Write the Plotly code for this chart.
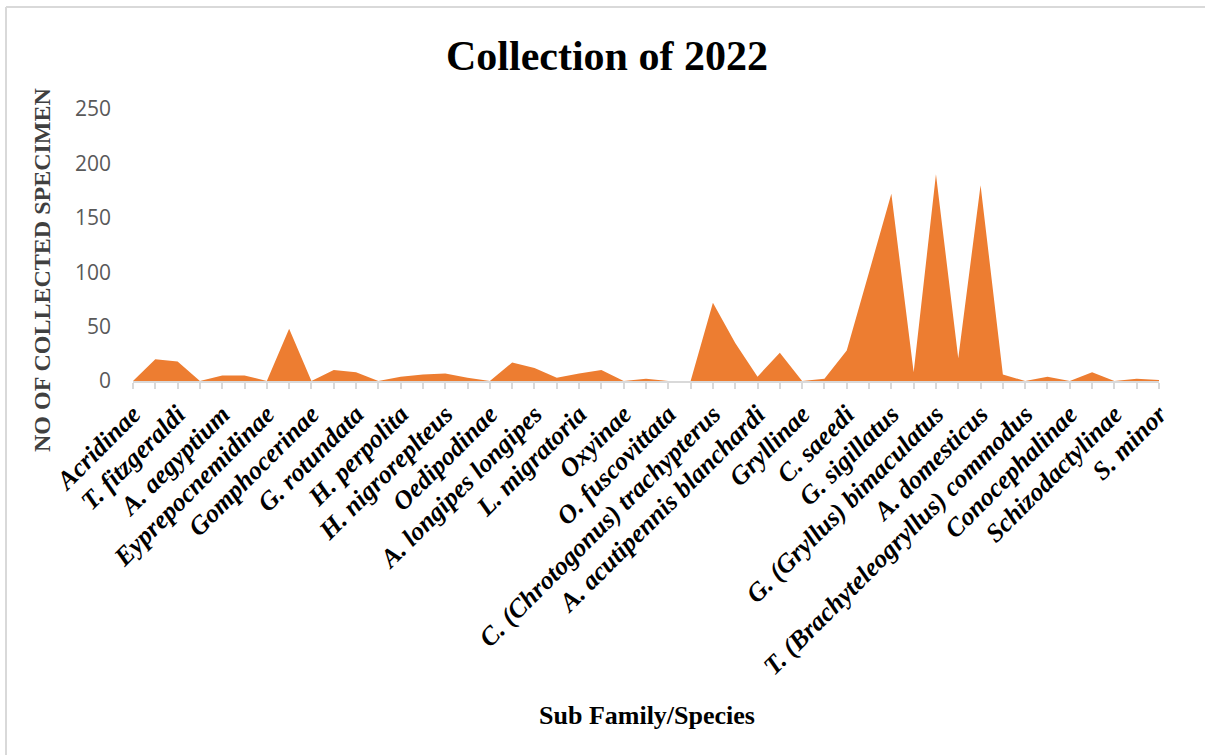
import plotly.graph_objects as go

# Taxa named on the axis (every second category position)
labelled_taxa = [
    "Acridinae", "T. fitzgeraldi", "A. aegyptium", "Eyprepocnemidinae",
    "Gomphocerinae", "G. rotundata", "H. perpolita", "H. nigroreplteus",
    "Oedipodinae", "A. longipes longipes", "L. migratoria", "Oxyinae",
    "O. fuscovittata", "C. (Chrotogonus) trachypterus",
    "A. acutipennis blanchardi", "Gryllinae", "C. saeedi", "G. sigillatus",
    "G. (Gryllus) bimaculatus", "A. domesticus",
    "T. (Brachyteleogryllus) commodus", "Conocephalinae", "Schizodactylinae",
    "S. minor",
]

# Number of collected specimens per category position
specimens = [
    0, 20, 18, 0, 5, 5, 0, 48, 0, 10, 8, 0, 4, 6, 7, 3,
    0, 17, 12, 3, 7, 10, 0, 2, 0, 0, 72, 35, 4, 26, 0, 2,
    28, 100, 172, 8, 190, 21, 180, 6, 0, 4, 0, 8, 0, 2, 1,
]

y_ticks = [0, 50, 100, 150, 200, 250]

positions = list(range(len(specimens)))
tick_text = [labelled_taxa[i // 2] if i % 2 == 0 else "" for i in positions]

W, H = 1205, 755
PL, PR, PT, PB = 133, 1159, 109, 381  # plot area in pixels


def px(xp):
    return (xp - PL) / (PR - PL)


def py(yp):
    return (PB - yp) / (PB - PT)


SERIF = "Liberation Serif"

fig = go.Figure(
    go.Scatter(
        x=positions,
        y=specimens,
        mode="none",
        fill="tozeroy",
        fillcolor="#ED7D31",
        hoverinfo="x+y",
    )
)

fig.update_layout(
    width=W,
    height=H,
    margin=dict(l=PL, r=W - PR, t=PT, b=H - PB, autoexpand=False),
    paper_bgcolor="white",
    plot_bgcolor="white",
    showlegend=False,
    title=dict(
        text="<b>Collection of 2022</b>",
        font=dict(family=SERIF, size=42, color="#000000"),
        xref="container", yref="container",
        x=607 / W, y=1 - 55 / H,
        xanchor="center", yanchor="middle",
    ),
)

fig.update_xaxes(
    range=[0, len(specimens) - 1],
    tickmode="array",
    tickvals=positions,
    ticktext=tick_text,
    tickangle=-45,
    tickfont=dict(family=SERIF, size=26, color="#000000",
                  weight="bold", style="italic"),
    ticks="outside",
    ticklen=6,
    tickwidth=1.5,
    tickcolor="#D9D9D9",
    showline=True,
    linecolor="#D9D9D9",
    linewidth=1.5,
    showgrid=False,
    zeroline=False,
    automargin=False,
)

fig.update_yaxes(
    range=[0, 250],
    tickmode="array",
    tickvals=y_ticks,
    tickfont=dict(family="Open Sans", size=21, color="#595959"),
    ticklabelstandoff=21,
    showline=False,
    showgrid=False,
    zeroline=False,
    automargin=False,
)

fig.add_annotation(
    text="<b>NO OF COLLECTED SPECIMEN</b>",
    xref="paper", yref="paper",
    x=px(42), y=py(270),
    xanchor="center", yanchor="middle",
    textangle=-90,
    showarrow=False,
    font=dict(family=SERIF, size=24, color="#404040"),
)

fig.add_annotation(
    text="<b>Sub Family/Species</b>",
    xref="paper", yref="paper",
    x=px(647), y=py(715),
    xanchor="center", yanchor="middle",
    showarrow=False,
    font=dict(family=SERIF, size=26, color="#000000"),
)

# Chart-area outline along the left and top edges
border = dict(color="#D9D9D9", width=2)
fig.add_shape(type="line", xref="paper", yref="paper",
              x0=px(6), x1=px(6), y0=py(7), y1=py(H + 5), line=border)
fig.add_shape(type="line", xref="paper", yref="paper",
              x0=px(6), x1=px(W + 5), y0=py(7), y1=py(7), line=border)

fig.write_html("out.html")
